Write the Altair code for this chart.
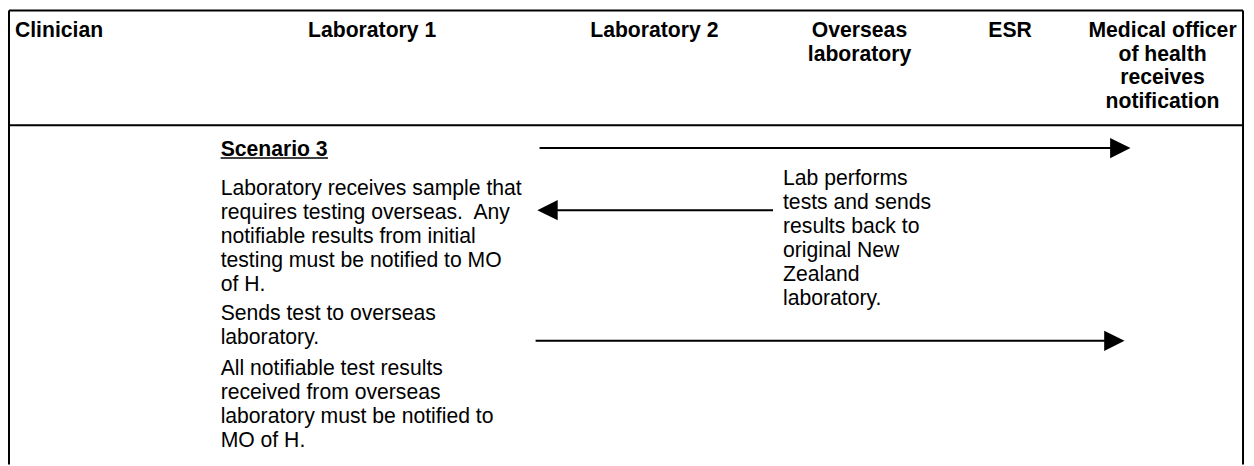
import altair as alt
import pandas as pd

# ---------------- data (text content) ----------------
header_labels = ["Clinician", "Laboratory 1", "Laboratory 2", "Overseas", "laboratory", "ESR",
                 "Medical officer", "of health", "receives", "notification"]
scenario_title = ["Scenario 3"]
lab1_para1 = ["Laboratory receives sample that", "requires testing overseas.\u00a0 Any",
              "notifiable results from initial", "testing must be notified to MO", "of H."]
lab1_para2 = ["Sends test to overseas", "laboratory."]
lab1_para3 = ["All notifiable test results", "received from overseas",
              "laboratory must be notified to", "MO of H."]
overseas_note = ["Lab performs", "tests and sends", "results back to", "original New",
                 "Zealand", "laboratory."]

# ---------------- layout (page pixel coordinates) ----------------
W, H = 1246, 458          # drawing area (page is 1254x466 with 8px margin)
FONT = "Liberation Sans"
FS = 21.3
LH = 23.7

header_x = [15, 374.5, 658.5, 865, 865, 1016.5, 1170, 1170, 1170, 1170]
header_y = [36, 36, 36, 36, 36 + LH, 36, 36, 36 + LH, 36 + 2 * LH, 36 + 3 * LH]

hdr = pd.DataFrame({"x": header_x, "y": header_y, "t": header_labels})
hdr_left = hdr.iloc[:1]
hdr_center = hdr.iloc[1:]

title_df = pd.DataFrame({"x": [222], "y": [155], "t": scenario_title})

body_rows = []
for i, s in enumerate(lab1_para1):
    body_rows.append((222, 195 + i * 24, s))
for i, s in enumerate(lab1_para2):
    body_rows.append((222, 321 + i * 24, s))
for i, s in enumerate(lab1_para3):
    body_rows.append((222, 376 + i * 24, s))
for i, s in enumerate(overseas_note):
    body_rows.append((788, 185 + i * 24, s))
body = pd.DataFrame(body_rows, columns=["x", "y", "t"])

# table borders
borders = pd.DataFrame({
    "x":  [9,    9,     9,    1251],
    "x2": [1251, 1251,  9,    1251],
    "y":  [9,    124.5, 9,    9],
    "y2": [9,    124.5, 466,  466],
})
underline = pd.DataFrame({"x": [222], "x2": [330], "y": [157.5], "y2": [157.5]})

# arrows
shafts = pd.DataFrame({
    "x":  [543, 558, 539],
    "x2": [1120, 778, 1113],
    "y":  [147.5, 210, 341.5],
    "y2": [147.5, 210, 341.5],
})
heads_right = pd.DataFrame({"x": [1127.5, 1121.5], "y": [147.5, 341.5]})
heads_left = pd.DataFrame({"x": [551], "y": [210]})

xs = alt.Scale(domain=[8, 8 + W], nice=False, zero=False)
ys = alt.Scale(domain=[8, 8 + H], nice=False, zero=False, reverse=True)


def X(f="x"):
    return alt.X(f"{f}:Q", scale=xs, axis=None)


def Y(f="y"):
    return alt.Y(f"{f}:Q", scale=ys, axis=None)


rules = alt.Chart(borders).mark_rule(color="black", strokeWidth=2).encode(
    x=X(), x2="x2:Q", y=Y(), y2="y2:Q")
ul = alt.Chart(underline).mark_rule(color="black", strokeWidth=1.6).encode(
    x=X(), x2="x2:Q", y=Y(), y2="y2:Q")
arrows = alt.Chart(shafts).mark_rule(color="black", strokeWidth=2).encode(
    x=X(), x2="x2:Q", y=Y(), y2="y2:Q")
hr = alt.Chart(heads_right).mark_point(
    shape="M 1 0 L -1 -1 L -1 1 Z", size=420, filled=True, color="black",
    opacity=1, strokeWidth=0).encode(x=X(), y=Y())
hl = alt.Chart(heads_left).mark_point(
    shape="M -1 0 L 1 -1 L 1 1 Z", size=420, filled=True, color="black",
    opacity=1, strokeWidth=0).encode(x=X(), y=Y())

t_hdr_left = alt.Chart(hdr_left).mark_text(
    font=FONT, fontSize=FS, fontWeight="bold", align="left", baseline="alphabetic",
    color="black").encode(x=X(), y=Y(), text="t:N")
t_hdr_center = alt.Chart(hdr_center).mark_text(
    font=FONT, fontSize=FS, fontWeight="bold", align="center", baseline="alphabetic",
    color="black").encode(x=X(), y=Y(), text="t:N")
t_title = alt.Chart(title_df).mark_text(
    font=FONT, fontSize=FS, fontWeight="bold", align="left", baseline="alphabetic",
    color="black").encode(x=X(), y=Y(), text="t:N")
t_body = alt.Chart(body).mark_text(
    font=FONT, fontSize=FS, align="left", baseline="alphabetic",
    color="black").encode(x=X(), y=Y(), text="t:N")

chart = alt.layer(
    rules, ul, arrows, hr, hl, t_hdr_left, t_hdr_center, t_title, t_body
).properties(
    width=W, height=H, padding=0,
    autosize=alt.AutoSizeParams(type="none"),
).configure_view(stroke=None)

chart.save("out.html", embed_options={"renderer": "svg", "actions": False})
